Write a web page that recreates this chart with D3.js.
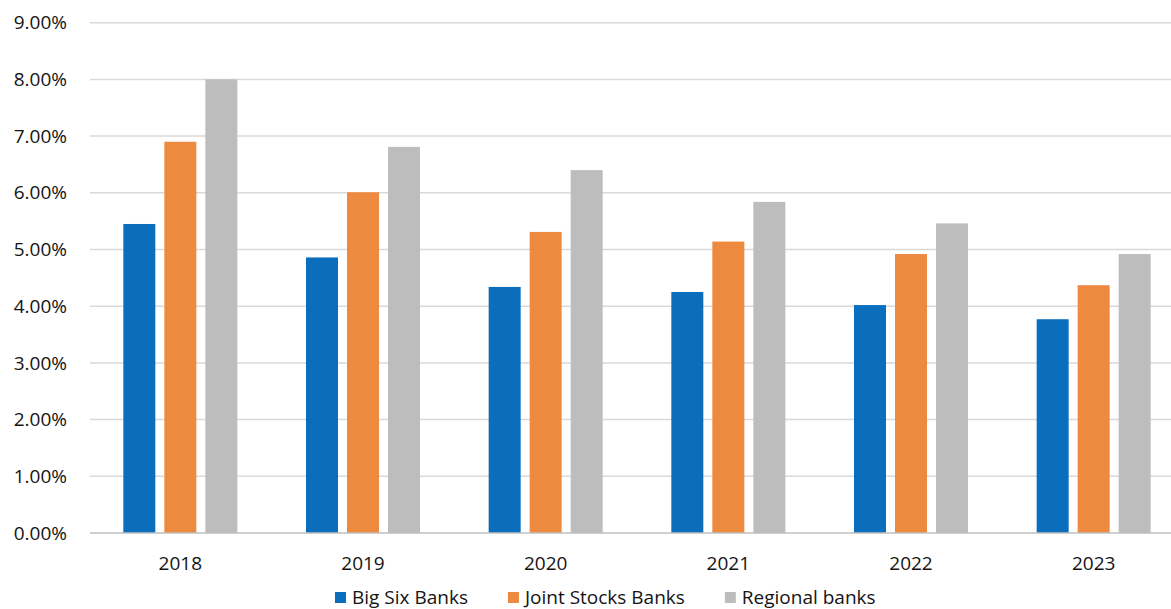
<!DOCTYPE html>
<html>
<head>
<meta charset="utf-8">
<script src="https://cdn.jsdelivr.net/npm/d3@7"></script>
<style>
  body { margin: 0; background: #fff; }
  svg { display: block; font-family: "Open Sans", sans-serif; }
  .tick-label { font-size: 19px; fill: #141414; }
  .legend-label { font-size: 19px; fill: #141414; }
</style>
</head>
<body>
<div id="chart"></div>
<script>
// DATA -----------------------------------------------------------------
const years = ["2018", "2019", "2020", "2021", "2022", "2023"];
const seriesNames = ["Big Six Banks", "Joint Stocks Banks", "Regional banks"];
const bigSix = [0.0545, 0.0486, 0.0434, 0.0425, 0.0402, 0.0377];
const jointStock = [0.0690, 0.0601, 0.0531, 0.0514, 0.0492, 0.0437];
const regional = [0.0800, 0.0681, 0.0640, 0.0584, 0.0546, 0.0492];
const yTicks = [0, 0.01, 0.02, 0.03, 0.04, 0.05, 0.06, 0.07, 0.08, 0.09];
const colors = ["#0a6ebd", "#ee8a40", "#bdbdbd"];
// DATA -----------------------------------------------------------------

const width = 1171, height = 609;
const margins = { top: 22.7, bottom: 76, left: 89, right: -14 };

const svg = d3.select("#chart").append("svg")
    .attr("width", width)
    .attr("height", height);

const rows = years.map((y, i) => ({ year: y, values: [bigSix[i], jointStock[i], regional[i]] }));

//SCALES
const x0 = d3.scaleBand()
    .domain(years)
    .range([margins.left, width - margins.right])
    .paddingInner(0).paddingOuter(0);

const x1 = d3.scaleBand()
    .domain(d3.range(seriesNames.length))
    .range([0, x0.bandwidth()])
    .paddingInner(0.22)
    .paddingOuter(0.837);

const y = d3.scaleLinear()
    .domain([0, 0.09])
    .range([height - margins.bottom, margins.top]);

//GRID
svg.append("g").attr("class", "grid")
    .selectAll("line").data(yTicks.slice(1)).enter()
    .append("line")
    .attr("x1", margins.left + 1).attr("x2", width)
    .attr("y1", d => y(d)).attr("y2", d => y(d))
    .attr("stroke", "#d9d9d9").attr("stroke-width", 1.5);

//Y LABELS
svg.append("g")
    .selectAll("text").data(yTicks).enter()
    .append("text")
    .attr("class", "tick-label")
    .attr("x", 67)
    .attr("y", d => y(d))
    .attr("dy", "0.35em")
    .attr("text-anchor", "end")
    .text(d => d3.format(".2%")(d));

//BARS
const groups = svg.append("g").attr("class", "bars")
    .selectAll("g").data(rows).enter()
    .append("g")
    .attr("transform", d => `translate(${x0(d.year)},0)`);

groups.selectAll("rect")
    .data(d => d.values.map((v, i) => ({ key: i, value: v })))
    .enter().append("rect")
    .attr("x", d => x1(d.key))
    .attr("width", x1.bandwidth())
    .attr("y", d => y(d.value))
    .attr("height", d => y(0) - y(d.value))
    .attr("fill", d => colors[d.key]);

//X AXIS LINE
svg.append("line")
    .attr("x1", margins.left + 1).attr("x2", width)
    .attr("y1", y(0)).attr("y2", y(0))
    .attr("stroke", "#bfbfbf").attr("stroke-width", 1.5);

//X LABELS
svg.append("g")
    .selectAll("text").data(years).enter()
    .append("text")
    .attr("class", "tick-label")
    .attr("x", d => x0(d) + x0.bandwidth() / 2)
    .attr("y", 570)
    .attr("text-anchor", "middle")
    .text(d => d);

//LEGEND
const legend = svg.append("g").attr("class", "legend");
let lx = 335;
seriesNames.forEach((name, i) => {
    legend.append("rect")
        .attr("x", lx).attr("y", 592)
        .attr("width", 11).attr("height", 11)
        .attr("fill", colors[i]);
    const t = legend.append("text")
        .attr("class", "legend-label")
        .attr("x", lx + 17)
        .attr("y", 604)
        .text(name);
    lx += 17 + t.node().getComputedTextLength() + 40;
});
</script>
</body>
</html>
